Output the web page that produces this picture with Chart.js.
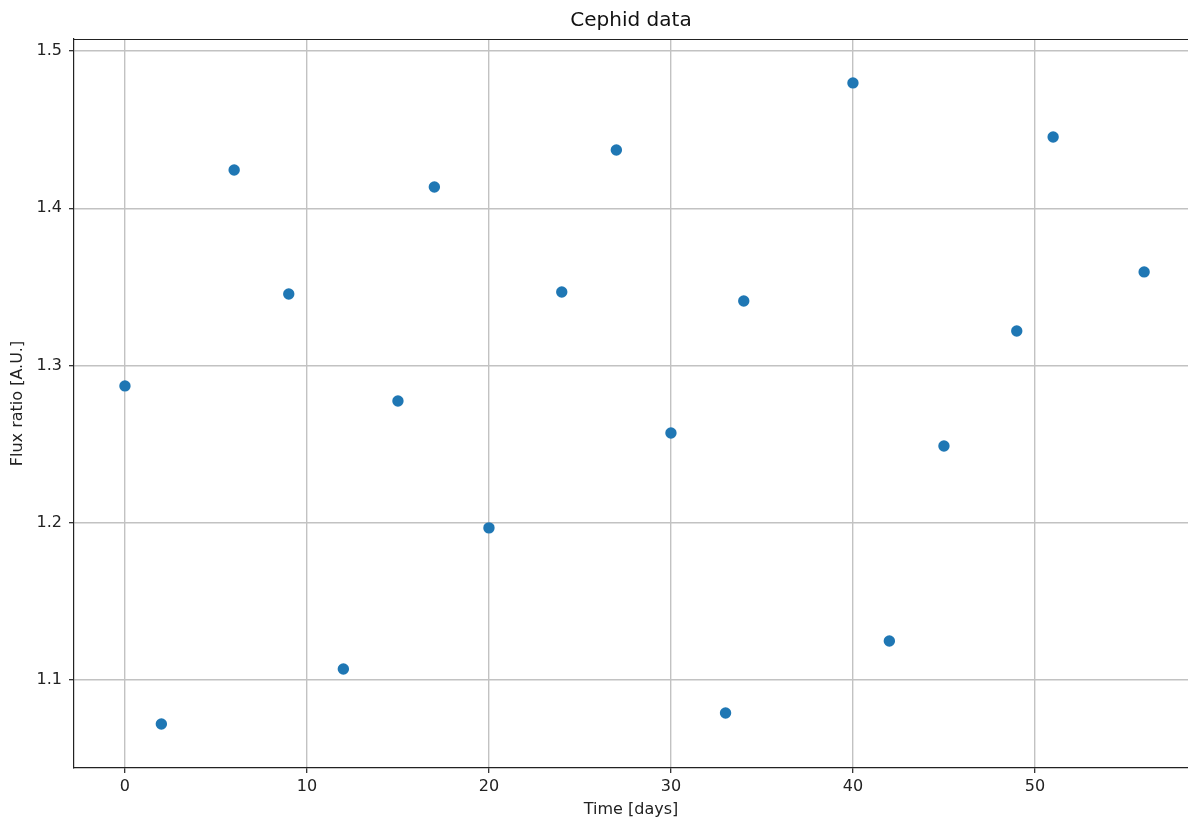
<!DOCTYPE html>
<html>
<head>
<meta charset="utf-8">
<script src="https://cdn.jsdelivr.net/npm/chart.js@4/dist/chart.umd.min.js"></script>
<style>
  html, body { margin: 0; padding: 0; background: #fff; }
  #wrap { width: 1188px; height: 822px; }
</style>
</head>
<body>
<div id="wrap"><canvas id="c" width="1188" height="822"></canvas></div>
<script>
const days = [0, 2, 6, 9, 12, 15, 17, 20, 24, 27, 30, 33, 34, 40, 42, 45, 49, 51, 56];
const fluxRatio = [1.2870, 1.0720, 1.4243, 1.3455, 1.1070, 1.2774, 1.4135, 1.1967, 1.3467, 1.4370,
                   1.2571, 1.0790, 1.3410, 1.4797, 1.1248, 1.2488, 1.3219, 1.4453, 1.3595];
const xTicks = [0, 10, 20, 30, 40, 50];
const yTicks = [1.1, 1.2, 1.3, 1.4, 1.5];
const titleText = 'Cephid data';
const xLabel = 'Time [days]';
const yLabel = 'Flux ratio [A.U.]';

const points = days.map((d, i) => ({ x: d, y: fluxRatio[i] }));

const topSpine = {
  id: 'topSpine',
  afterDraw(chart) {
    const { ctx, chartArea } = chart;
    ctx.save();
    ctx.strokeStyle = '#222';
    ctx.lineWidth = 1.2;
    ctx.beginPath();
    ctx.moveTo(chartArea.left, Math.round(chartArea.top) + 0.5);
    ctx.lineTo(chartArea.right, Math.round(chartArea.top) + 0.5);
    ctx.stroke();
    ctx.restore();
  }
};

const FONT = 'DejaVu Sans';
const gridOpts = {
  color: '#c2c2c2',
  lineWidth: 1.4,
  drawTicks: true,
  tickLength: 5,
  tickColor: '#222',
  tickWidth: 1.2
};

new Chart(document.getElementById('c'), {
  type: 'scatter',
  data: {
    datasets: [{
      data: points,
      backgroundColor: '#1f77b4',
      borderWidth: 0,
      pointRadius: 5.7,
      pointHoverRadius: 5.7
    }]
  },
  options: {
    responsive: false,
    animation: false,
    events: [],
    layout: { padding: 0, autoPadding: false },
    plugins: {
      legend: { display: false },
      tooltip: { enabled: false },
      title: {
        display: true,
        fullSize: false,
        text: titleText,
        color: '#111',
        font: { family: FONT, size: 20, weight: 'normal', lineHeight: 1.2 },
        padding: { top: 8.5, bottom: 6.5 }
      }
    },
    scales: {
      x: {
        type: 'linear',
        min: -2.8,
        max: 58.41,
        afterFit(s) { s.height = 54; s.paddingLeft = 0; s.paddingRight = 0; },
        afterBuildTicks(s) { s.ticks = xTicks.map(v => ({ value: v })); },
        ticks: {
          color: '#222',
          font: { family: FONT, size: 16 },
          padding: 4,
          maxRotation: 0,
          callback: v => String(v)
        },
        grid: gridOpts,
        border: { display: true, color: '#222', width: 1.2 },
        title: {
          display: true,
          text: xLabel,
          color: '#222',
          font: { family: FONT, size: 16, lineHeight: 1.2 },
          padding: { top: 0, bottom: 3 }
        }
      },
      y: {
        type: 'linear',
        min: 1.0440,
        max: 1.50763,
        afterFit(s) { s.width = 74; s.paddingTop = 0; s.paddingBottom = 0; },
        afterBuildTicks(s) { s.ticks = yTicks.map(v => ({ value: v })); },
        ticks: {
          color: '#222',
          font: { family: FONT, size: 16 },
          padding: 7,
          callback: v => Number(v).toFixed(1)
        },
        grid: gridOpts,
        border: { display: true, color: '#222', width: 1.2 },
        title: {
          display: true,
          text: yLabel,
          color: '#222',
          font: { family: FONT, size: 16, lineHeight: 1.2 },
          padding: { top: 8.4, bottom: 0 }
        }
      }
    }
  },
  plugins: [topSpine]
});
</script>
</body>
</html>
